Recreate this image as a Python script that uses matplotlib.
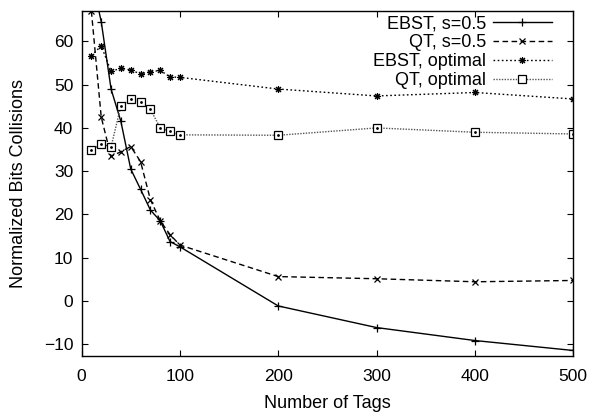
import matplotlib
matplotlib.use("Agg")
import matplotlib.pyplot as plt

plt.rcParams['font.family'] = ['Liberation Sans', 'DejaVu Sans']

# number of tags on the x axis
tags = [10, 20, 30, 40, 50, 60, 70, 80, 90, 100, 200, 300, 400, 500]

ebst_half = [75.0, 64.6, 49.0, 41.5, 30.5, 25.8, 21.0, 18.5, 13.7, 12.5, -1.2, -6.2, -9.2, -11.5]
qt_half = [67.0, 42.5, 33.4, 34.5, 35.7, 32.2, 23.4, 18.5, 15.3, 12.9, 5.6, 5.1, 4.4, 4.7]
ebst_opt = [56.7, 59.0, 53.1, 53.8, 53.4, 52.5, 53.0, 53.3, 51.8, 51.7, 49.0, 47.4, 48.2, 46.7]
qt_opt = [34.8, 36.3, 35.6, 45.1, 46.7, 46.0, 44.3, 40.0, 39.2, 38.4, 38.3, 40.0, 39.0, 38.6]

fig = plt.figure(figsize=(5.91, 4.16), dpi=100)
ax = fig.add_axes([0.138, 0.144, 0.832, 0.830])

ax.plot(tags, ebst_half, color='black', lw=1.0, ls='-',
        marker='+', ms=6, mew=0.9, label='EBST, s=0.5')
ax.plot(tags, qt_half, color='black', lw=1.0, ls=(0, (4, 2.5)),
        marker='x', ms=5, mew=0.9, label='QT, s=0.5')
ax.plot(tags, ebst_opt, color='black', lw=1.0, ls=(0, (1.2, 1.8)),
        marker=(8, 2, 0), ms=5, mew=0.8, label='EBST, optimal')
ax.plot(tags, qt_opt, color='#555555', lw=1.0, ls=(0, (1, 1)),
        marker='s', ms=5.5, mew=0.9, mfc='white', mec='black', label='QT, optimal')
# gnuplot-style dot in the middle of each box
ax.plot(tags, qt_opt, ls='none', marker='.', ms=2, color='black')

ax.set_xlim(0, 500)
ax.set_ylim(-12.8, 67.1)
ax.set_xticks([0, 100, 200, 300, 400, 500])
ax.set_yticks([-10, 0, 10, 20, 30, 40, 50, 60])
ax.tick_params(direction='in', top=True, right=True, length=4, width=0.8,
               labelsize=12.5)
ax.tick_params(axis='x', pad=9.5)
ax.tick_params(axis='y', pad=6)
for sp in ax.spines.values():
    sp.set_linewidth(1.0)

ax.set_xlabel('Number of Tags', fontsize=13, labelpad=8)
ax.set_ylabel('Normalized Bits Collisions', fontsize=13, labelpad=12)

ax.legend(loc='upper right', bbox_to_anchor=(0.957, 0.986), frameon=False,
          markerfirst=False, fontsize=13, handlelength=3.3, handletextpad=0.35,
          labelspacing=0.1, borderaxespad=0.0, borderpad=0.0)

fig.savefig('out.png', dpi=100)
